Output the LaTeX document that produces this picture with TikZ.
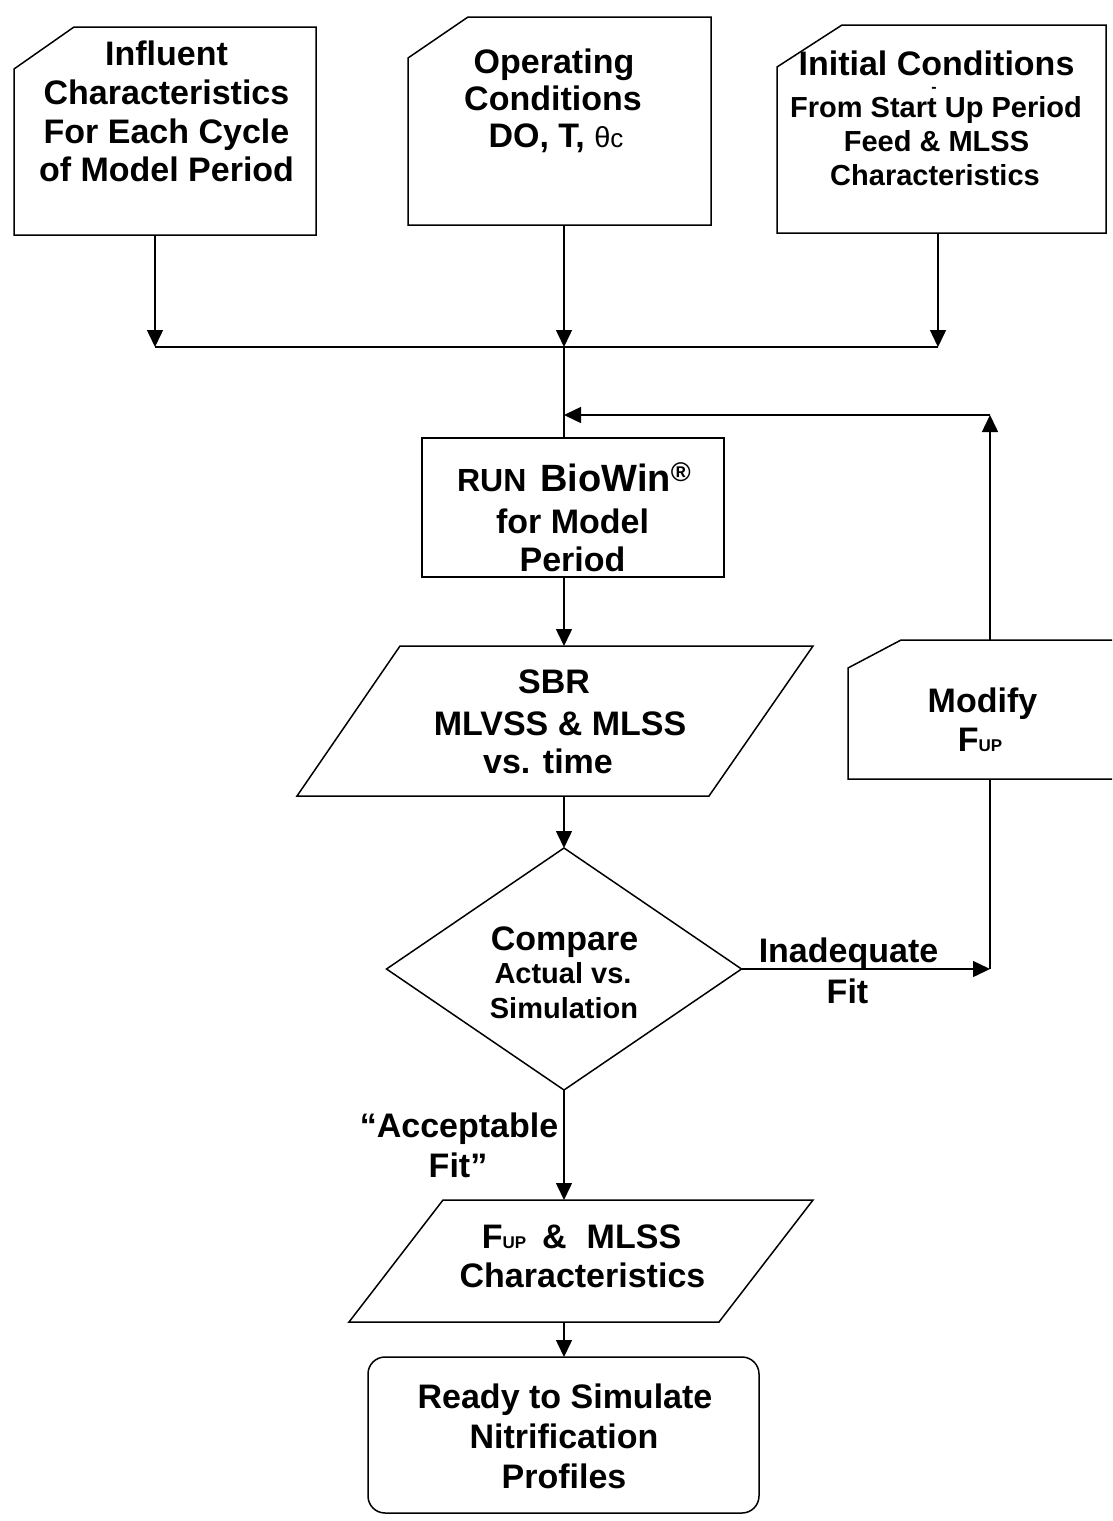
\documentclass[tikz,border=0pt]{standalone}
\usepackage{fontspec}
\setmainfont{Liberation Sans}
\usetikzlibrary{arrows.meta,calc}
\begin{document}
\begin{tikzpicture}[x=1pt,y=-1pt,
  frame/.style={draw=none,inner sep=0pt,outer sep=0pt},
  outline/.style={draw=black,line width=1.5pt,line join=miter},
  conn/.style={draw=black,line width=1.5pt},
  arr/.style={conn,-{Triangle[length=17pt,width=16pt]}},
  tl/.style={inner sep=0pt,outer sep=0pt,anchor=base,font=\fontsize{34}{40}\selectfont\bfseries},
  fs/.style={font=\fontsize{#1}{#1}\selectfont\bfseries}]
\useasboundingbox (0,0) rectangle (1112,1521);
\clip (0,0) rectangle (1112,1521);
\fill[white] (0,0) rectangle (1112,1521);

% ---------- shape frames ----------
\node[frame,minimum width=302pt,minimum height=208pt] (infl) at (165,131) {};
\node[frame,minimum width=303pt,minimum height=208pt] (opc) at (559.5,121) {};
\node[frame,minimum width=329pt,minimum height=208pt] (init) at (941.5,129) {};
\node[frame,minimum width=302pt,minimum height=139pt] (run) at (573,507.5) {};
\node[frame,minimum width=516pt,minimum height=150pt] (sbr) at (555,721) {};
\node[frame,minimum width=355pt,minimum height=242pt] (cmp) at (564,969) {};
\node[frame,minimum width=277pt,minimum height=139pt] (mod) at (986.5,709.5) {};
\node[frame,minimum width=464pt,minimum height=122pt] (fup) at (581,1261) {};
\node[frame,minimum width=391pt,minimum height=156pt] (ready) at (563.5,1435) {};

% ---------- outlines ----------
\draw[outline] (infl.south west) -- ($(infl.north west)+(0,42)$) -- ($(infl.north west)+(60,0)$) -- (infl.north east) -- (infl.south east) -- cycle;
\draw[outline] (opc.south west) -- ($(opc.north west)+(0,41)$) -- ($(opc.north west)+(60,0)$) -- (opc.north east) -- (opc.south east) -- cycle;
\draw[outline] (init.south west) -- ($(init.north west)+(0,42)$) -- ($(init.north west)+(65,0)$) -- (init.north east) -- (init.south east) -- cycle;
\draw[outline] (run.south west) rectangle (run.north east);
\draw[outline] (sbr.south west) -- ($(sbr.north west)+(103,0)$) -- (sbr.north east) -- ($(sbr.south east)+(-104,0)$) -- cycle;
\draw[outline] (cmp.north) -- (cmp.east) -- (cmp.south) -- (cmp.west) -- cycle;
\draw[outline] (mod.south west) -- ($(mod.north west)+(0,28)$) -- ($(mod.north west)+(53,0)$) -- (mod.north east) -- (mod.south east) -- cycle;
\draw[outline] (fup.south west) -- ($(fup.north west)+(94,0)$) -- (fup.north east) -- ($(fup.south east)+(-94,0)$) -- cycle;
\draw[outline,rounded corners=17pt] (ready.south west) rectangle (ready.north east);

% ---------- texts ----------
\node[tl] (t1a) at (166.5,65) {Influent};
\node[tl] (t1b) at (166.5,104) {Characteristics};
\node[tl] (t1c) at (166.5,143) {For Each Cycle};
\node[tl] (t1d) at (166.5,181) {of Model Period};

\node[tl] (t2a) at (554,73) {Operating};
\node[tl] (t2b) at (553,110) {Conditions};
\node[tl] (t2c) at (556,147) {DO, T, {\fontsize{29}{29}\selectfont\mdseries θ}{\fontsize{26}{26}\selectfont\mdseries c}};

\node[tl,fs=34] (t3a) at (936.5,75) {Initial Conditions};
\node[tl,fs=16] (t3b) at (934,92) {-};
\node[tl,fs=29] (t3c) at (936,117) {From Start Up Period};
\node[tl,fs=29] (t3d) at (936.5,151) {Feed \& MLSS};
\node[tl,fs=29] (t3e) at (935,185) {Characteristics};

\node[tl] (trA) at (574,491) {{\fontsize{32}{32}\selectfont RUN}\hspace{14pt}{\fontsize{38}{38}\selectfont BioWin}\raisebox{10pt}{\fontsize{27}{27}\selectfont ®}};
\node[tl] (trB) at (572.5,533) {for Model};
\node[tl] (trC) at (572.5,571) {Period};

\node[tl] (tsA) at (554,693) {SBR};
\node[tl] (tsB) at (560,735) {MLVSS \& MLSS};
\node[tl] (tsC) at (548,773) {vs. time};

\node[tl] (tcA) at (564.5,950) {Compare};
\node[tl,fs=29] (tcB) at (563,983) {Actual vs.};
\node[tl,fs=29] (tcC) at (564,1018) {Simulation};

\node[tl] (tiA) at (848.5,962) {Inadequate};
\node[tl] (tiB) at (847.5,1003) {Fit};

\node[tl] (taA) at (459,1137) {“Acceptable};
\node[tl] (taB) at (458,1177) {Fit”};

\node[tl] (tfA) at (581.5,1248) {F{\fontsize{17}{17}\selectfont UP}\hspace{16pt}\&\hspace{20pt}MLSS};
\node[tl] (tfB) at (582.5,1287) {Characteristics};

\node[tl] (tdA) at (565,1408) {Ready to Simulate};
\node[tl] (tdB) at (564,1448) {Nitrification};
\node[tl] (tdC) at (564,1488) {Profiles};

\node[tl] (tmA) at (982.5,712) {Modify};
\node[tl] (tmB) at (980,751) {F{\fontsize{17}{17}\selectfont UP}};

% ---------- connectors ----------
\coordinate (jL) at (155,347);
\coordinate (jM) at (564,347);
\coordinate (jR) at (938,347);
\coordinate (fb) at (990,415);

\draw[conn] (jL) -- (jR);
\draw[arr] (jL |- infl.south) -- (jL);
\draw[arr] (jM |- opc.south) -- (jM);
\draw[arr] (jR |- init.south) -- (jR);
\draw[conn] (jM) -- (jM |- run.north);

\draw[arr] (fb |- mod.north) -- (fb);
\draw[arr] (fb) -- (fb -| jM);

\draw[arr] (jM |- run.south) -- (jM |- sbr.north);
\draw[arr] (jM |- sbr.south) -- (cmp.north);
\draw[conn] (fb |- mod.south) -- (fb |- cmp.east);
\draw[arr] (cmp.east) -- (fb |- cmp.east);
\draw[arr] (cmp.south) -- (cmp.south |- fup.north);
\draw[arr] (jM |- fup.south) -- (jM |- ready.north);
\end{tikzpicture}
\end{document}
